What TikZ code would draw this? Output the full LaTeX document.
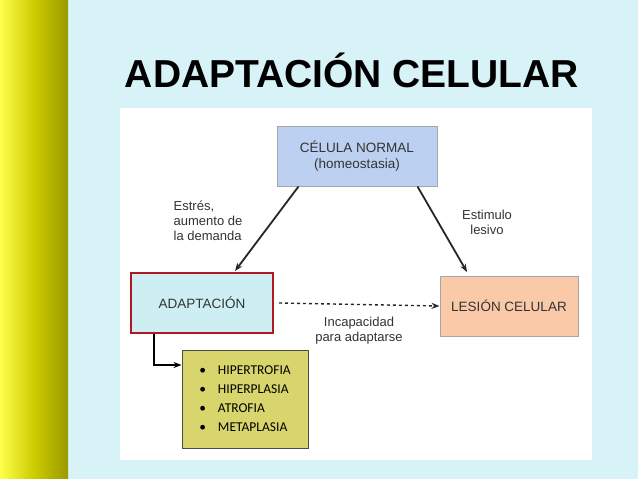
\documentclass[tikz,border=0pt]{standalone}
\usepackage{fontspec}
\setmainfont{Liberation Sans}
\newfontfamily\calibri{Carlito}
\usetikzlibrary{positioning,arrows.meta}
\definecolor{bgcyan}{HTML}{D8F3F8}
\definecolor{bluebox}{HTML}{BCD0F2}
\definecolor{cyanbox}{HTML}{CDEFF3}
\definecolor{peachbox}{HTML}{F9C9A8}
\definecolor{olivebox}{HTML}{D8D56C}
\definecolor{redframe}{HTML}{B01822}
\tikzset{
  cellbox/.style={draw=gray!70, line width=1pt, minimum height=60pt, align=center, font=\fontsize{13.5}{16}\selectfont, text=black!80},
  lbl/.style={align=left, font=\fontsize{13}{15}\selectfont, text=black!80},
  titlefont/.style={font=\bfseries\fontsize{39}{42}\selectfont},
}
\begin{document}
\begin{tikzpicture}[x=1pt, y=-1pt, >={Stealth[length=8pt]}]
        \useasboundingbox (0,0) rectangle (638,479);
        \fill[bgcyan] (0,0) rectangle (638,479);
        \shade[left color=yellow!70, right color=olive!80!yellow] (0,0) rectangle (68,479);
        \node[titlefont, text=black] (title) at (352,70) {ADAPTACIÓN CELULAR};
        \fill[white] (120,108) rectangle (592,460);
        % boxes
        \node[cellbox, fill=bluebox, minimum width=160pt] (normal) at (357,156) {CÉLULA NORMAL\\(homeostasia)};
        \node[cellbox, fill=cyanbox, draw=redframe, line width=2pt, minimum width=142pt] (adapt) at (202,303) {ADAPTACIÓN};
        \node[cellbox, fill=peachbox, minimum width=138pt] (lesion) at (509,306) {LESIÓN CELULAR};
        \node[draw=black!70, fill=olivebox, line width=1pt, minimum width=126pt, minimum height=98pt, align=left, font=\calibri\fontsize{13.5}{19}\selectfont, inner sep=4pt] (tipos) at (245,399)
            {\textbullet\hspace{12pt}HIPERTROFIA\\ \textbullet\hspace{12pt}HIPERPLASIA\\ \textbullet\hspace{12pt}ATROFIA\\ \textbullet\hspace{12pt}METAPLASIA};
        % connectors
        \coordinate (n1) at ([xshift=22pt]normal.south west);
        \coordinate (n2) at ([xshift=-20pt]normal.south east);
        \coordinate (a1) at (235,271);
        \coordinate (l1) at (467,272);
        \draw[->, line width=1.8pt, black!85] (n1) -- (a1);
        \draw[->, line width=1.8pt, black!85] (n2) -- (l1);
        \draw[->, dashed, line width=1.4pt, black!85] ([xshift=5pt]adapt.east) -- (lesion.west);
        \coordinate (a2) at ([xshift=24pt]adapt.south west);
        \draw[->, line width=1.4pt] (a2) |- (tipos.west |- 0,365);
        % labels
        \node[lbl] (estres) at (208,221) {Estrés,\\aumento de\\la demanda};
        \node[lbl, align=center] (lesivo) at (487,222) {Estimulo\\lesivo};
        \node[lbl, align=center] (incap) at (359,331) {Incapacidad\\para adaptarse};
    \end{tikzpicture}
\end{document}
